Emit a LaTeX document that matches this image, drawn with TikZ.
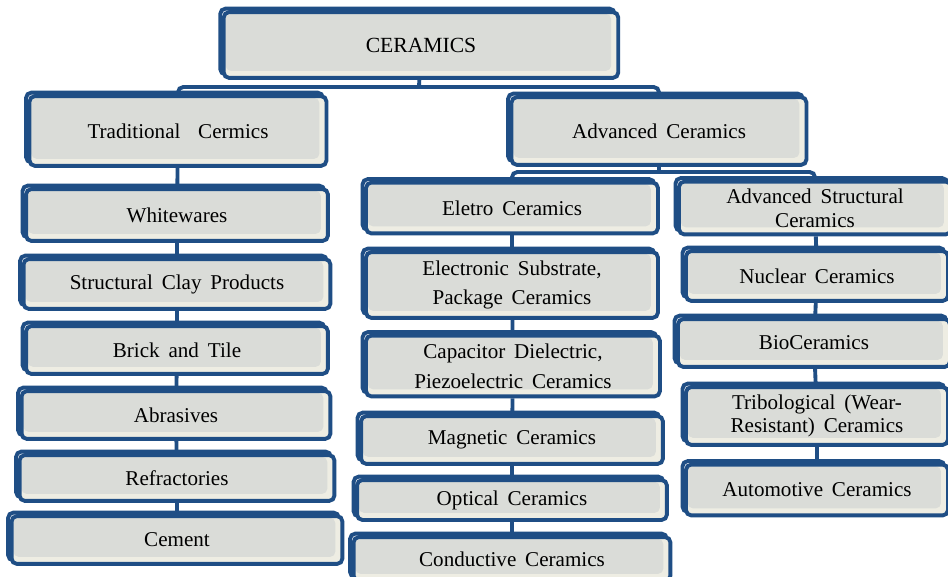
\documentclass[tikz,border=0pt]{standalone}
\usepackage{fontspec}
\setmainfont{Liberation Serif}
\usetikzlibrary{positioning}
\definecolor{boxblue}{RGB}{31,78,133}
\definecolor{boxgray}{RGB}{218,220,216}
\definecolor{boxcream}{RGB}{238,237,227}

\tikzset{
  catbox/.style={rounded corners=3pt, draw=boxblue, line width=2.2pt, fill=boxcream,
    preaction={draw=boxblue, line width=2.2pt, transform canvas={shift={(-2pt,2pt)}}},
    path picture={\fill[boxgray] ([shift={(1pt,-1pt)}]path picture bounding box.north west)
      rectangle ([shift={(-4pt,4pt)}]path picture bounding box.south east);},
    align=center, inner sep=1pt,
    font={\fontsize{12}{13.5}\selectfont\spaceskip=0.42em plus 0.1em}},
  boxsize/.style 2 args={minimum width=#1*0.567pt, minimum height=#2*0.567pt},
  link/.style={draw=boxblue, line width=2.2pt},
}

\begin{document}
\begin{tikzpicture}[x=0.02cm, y=-0.02cm]
\clip (0,0) rectangle (948,576);
\fill[white] (0,0) rectangle (948,576);

% root and first level
\node[catbox, boxsize={396}{66}, font=\fontsize{12.3}{14}\selectfont] (ceramics) at (421,45) {CERAMICS};
\node[catbox, boxsize={298}{70}] (trad) at (178,131) {Traditional \ Cermics};
\node[catbox, boxsize={296}{68}] (adv) at (659,131) {Advanced Ceramics};

% traditional ceramics
\node[catbox, boxsize={303}{52}] (white) at (177,215) {Whitewares};
\node[catbox, boxsize={308}{50}] (clay) at (177,284) {Structural Clay Products};
\node[catbox, boxsize={303}{48}] (brick) at (177,350) {Brick and Tile};
\node[catbox, boxsize={310}{48}] (abras) at (176,415) {Abrasives};
\node[catbox, boxsize={316}{46}] (refr) at (177,478) {Refractories};
\node[catbox, boxsize={332}{48}] (cement) at (177,540) {Cement};

% electro ceramics
\node[catbox, boxsize={293}{51}] (electro) at (512,208) {Eletro Ceramics};
\node[catbox, boxsize={293}{66}] (subst) at (512,285) {Electronic Substrate,\\[3.5pt]Package Ceramics};
\node[catbox, boxsize={295}{61}] (capac) at (513,366) {Capacitor Dielectric,\\[3.5pt]Piezoelectric Ceramics};
\node[catbox, boxsize={303}{48}] (magn) at (512,440) {Magnetic Ceramics};
\node[catbox, boxsize={311}{40}] (optic) at (512,500) {Optical Ceramics};
\node[catbox, boxsize={318}{44}] (cond) at (512,559) {Conductive Ceramics};

% advanced structural ceramics
\node[catbox, boxsize={273}{53}] (struct) at (815,208) {Advanced Structural\\Ceramics};
\node[catbox, boxsize={263}{50}] (nuclear) at (817,276) {Nuclear Ceramics};
\node[catbox, boxsize={273}{48}] (bio) at (814,343) {BioCeramics};
\node[catbox, boxsize={263}{58}] (trib) at (817,416) {Tribological (Wear-\\Resistant) Ceramics};
\node[catbox, boxsize={263}{51}] (auto) at (817,490) {Automotive Ceramics};

% connectors
\coordinate (bus1) at (419,87);
\coordinate (bus2) at (659,172);
\draw[link] (ceramics) -- (bus1);
\draw[link, rounded corners=3pt] (trad.north) |- (bus1) -| (adv.north);
\draw[link] (adv) -- (bus2);
\draw[link, rounded corners=3pt] (electro.north) |- (bus2) -| (struct.north);

\path[link]
(trad) edge (white)
(white) edge (clay)
(clay) edge (brick)
(brick) edge (abras)
(abras) edge (refr)
(refr) edge (cement)
(electro) edge (subst)
(subst) edge (capac)
(capac) edge (magn)
(magn) edge (optic)
(optic) edge (cond)
(struct) edge (nuclear)
(nuclear) edge (bio)
(bio) edge (trib)
(trib) edge (auto);
\end{tikzpicture}
\end{document}
